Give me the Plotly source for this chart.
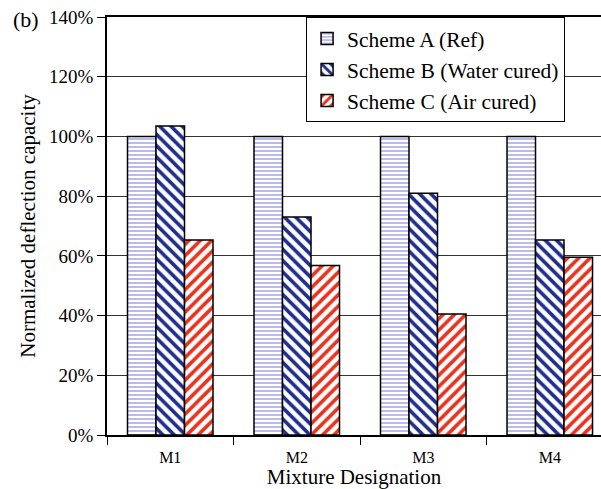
import plotly.graph_objects as go

# Normalized deflection capacity (%) per mixture and curing scheme
mixtures = ["M1", "M2", "M3", "M4"]
scheme_a = [100, 100, 100, 100]
scheme_b = [103.5, 73, 81, 65.3]
scheme_c = [65.3, 56.8, 40.5, 59.5]

series_names = ["Scheme A (Ref)", "Scheme B (Water cured)", "Scheme C (Air cured)"]
y_ticks = [0, 20, 40, 60, 80, 100, 120, 140]
y_tick_text = [f"{v}%" for v in y_ticks]

FONT = "Liberation Serif"

styles = [
    dict(shape="-", fgcolor="#9c9ce6", size=4, solidity=0.35),
    dict(shape="\\", fgcolor="#1f2d8c", size=8, solidity=0.45),
    dict(shape="/", fgcolor="#e8321e", size=8, solidity=0.45),
]

fig = go.Figure()
for name, vals, st in zip(series_names, [scheme_a, scheme_b, scheme_c], styles):
    fig.add_trace(go.Bar(
        x=mixtures, y=vals, name=name,
        marker=dict(
            color="white",
            line=dict(color="black", width=1.5),
            pattern=dict(shape=st["shape"], fgcolor=st["fgcolor"], bgcolor="white",
                         size=st["size"], solidity=st["solidity"], fillmode="replace",
                         fgopacity=1),
        ),
    ))

fig.update_layout(
    width=601, height=489,
    margin=dict(l=107, r=0, t=17, b=54, autoexpand=False),
    paper_bgcolor="white", plot_bgcolor="white",
    barmode="group", bargap=0.324, bargroupgap=0,
    font=dict(family=FONT, color="black"),
    showlegend=True,
    legend=dict(
        x=0.403, y=1, xanchor="left", yanchor="top",
        bgcolor="white", bordercolor="black", borderwidth=1,
        font=dict(family=FONT, size=21.5, color="black"),
        tracegroupgap=0, entrywidth=300, entrywidthmode="pixels",
    ),
)

fig.update_xaxes(
    range=[-0.5, 3.405],
    showline=True, linecolor="black", linewidth=1.5, mirror=True,
    ticks="outside", tickson="boundaries", ticklen=8, tickcolor="black", tickwidth=1,
    tickfont=dict(family=FONT, size=16, color="black"), ticklabelstandoff=7,
    showgrid=False,
    title=dict(text="Mixture Designation", font=dict(family=FONT, size=21, color="black"), standoff=6),
)

fig.update_yaxes(
    range=[0, 140], tickmode="array", tickvals=y_ticks, ticktext=y_tick_text,
    showline=True, linecolor="black", linewidth=1.5,
    ticks="outside", ticklen=8, tickcolor="black", tickwidth=1,
    tickfont=dict(family=FONT, size=19, color="black"),
    showgrid=True, gridcolor="#333333", gridwidth=1,
    zeroline=False,
    title=dict(text="Normalized deflection capacity", font=dict(family=FONT, size=21, color="black"), standoff=8),
)

fig.add_annotation(
    text="(b)", xref="paper", yref="paper", x=-0.195, y=0.993,
    xanchor="left", yanchor="middle", showarrow=False,
    font=dict(family=FONT, size=22, color="black"),
)

fig.write_html("out.html")
